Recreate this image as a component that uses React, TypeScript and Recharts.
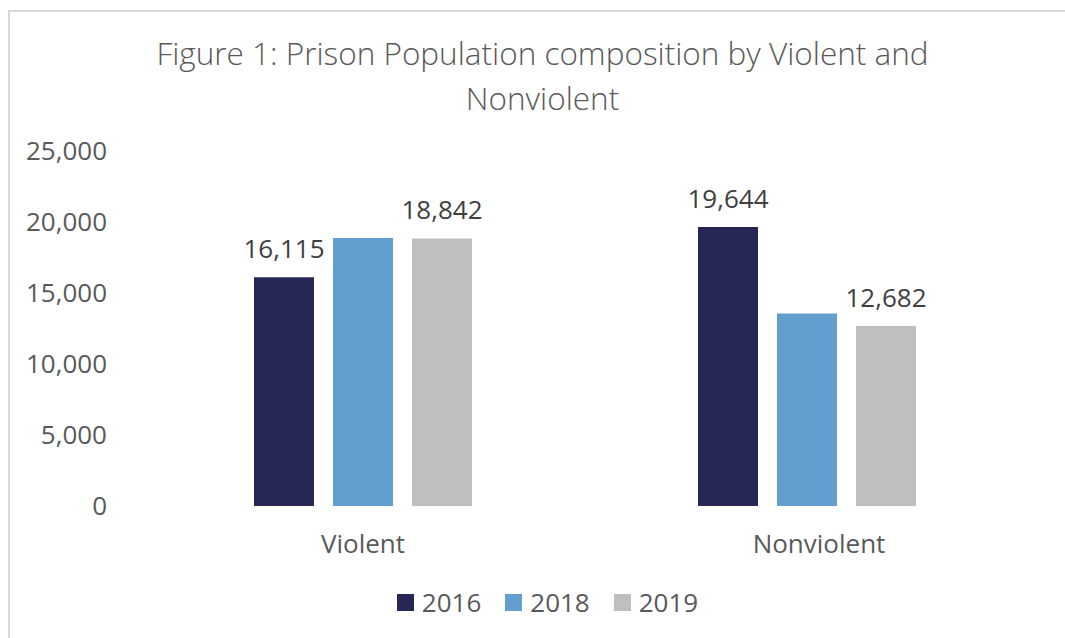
import { Bar, BarChart, LabelList, Legend, XAxis, YAxis } from 'recharts'

const CATEGORIES = ['Violent', 'Nonviolent']
const VALUES_2016 = [16115, 19644]
const VALUES_2018 = [18880, 13550]
const VALUES_2019 = [18842, 12682]
const Y_TICKS = [0, 5000, 10000, 15000, 20000, 25000]

const SERIES = [
  { key: '2016', color: '#262755', label: true },
  { key: '2018', color: '#629FD0', label: false },
  { key: '2019', color: '#BFBFBF', label: true },
]

const FONT = '"Open Sans", "Noto Sans", sans-serif'

const data = CATEGORIES.map((name, i) => ({
  name,
  '2016': VALUES_2016[i],
  '2018': VALUES_2018[i],
  '2019': VALUES_2019[i],
}))

const fmt = (v: number) => v.toLocaleString('en-US')

function LegendRow() {
  return (
    <div
      style={{
        display: 'flex',
        justifyContent: 'center',
        alignItems: 'center',
        gap: 24,
        paddingLeft: 66,
        fontFamily: FONT,
        fontSize: 26,
        color: '#595959',
        height: 40,
      }}
    >
      {SERIES.map((s) => (
        <div key={s.key} style={{ display: 'flex', alignItems: 'center', gap: 8 }}>
          <span style={{ width: 17, height: 17, background: s.color, display: 'inline-block' }} />
          <span>{s.key}</span>
        </div>
      ))}
    </div>
  )
}

// Excel nudges the second category label a little right
function CategoryTick(props: any) {
  const { x, y, payload } = props
  const dx = payload.value === 'Nonviolent' ? 12 : 0
  return (
    <text
      x={x + dx}
      y={y}
      dy="0.71em"
      textAnchor="middle"
      fill="#595959"
      fontSize={26}
      fontFamily={FONT}
    >
      {payload.value}
    </text>
  )
}

export default function App() {
  return (
    <div
      style={{
        position: 'absolute',
        left: 0,
        top: 0,
        width: 1065,
        height: 638,
        background: '#fff',
        overflow: 'hidden',
      }}
    >
      {/* chart border, only top and left show in the crop */}
      <div
        style={{
          position: 'absolute',
          left: 8,
          top: 10,
          width: 1100,
          height: 700,
          borderTop: '2px solid #D9D9D9',
          borderLeft: '2px solid #D9D9D9',
        }}
      />
      <div
        style={{
          position: 'absolute',
          left: 0,
          top: 30,
          width: 1085,
          textAlign: 'center',
          fontFamily: FONT,
          fontWeight: 300,
          fontSize: 31.5,
          lineHeight: '45px',
          color: '#595959',
        }}
      >
        Figure 1: Prison Population composition by Violent and
        <br />
        Nonviolent
      </div>
      <div style={{ position: 'absolute', left: 0, top: 0 }}>
        <BarChart
          width={1065}
          height={638}
          data={data}
          margin={{ top: 151, right: 36, left: 0, bottom: 32 }}
          barCategoryGap={113}
          barGap={19}
        >
          <XAxis
            dataKey="name"
            axisLine={false}
            tickLine={false}
            tickSize={0}
            tickMargin={29}
            height={60}
            tick={<CategoryTick />}
          />
          <YAxis
            type="number"
            domain={[0, 25000]}
            ticks={Y_TICKS}
            width={141}
            axisLine={false}
            tickLine={false}
            tickSize={0}
            tickMargin={34}
            tickFormatter={fmt}
            tick={{ fill: '#595959', fontSize: 26, fontFamily: FONT }}
          />
          <Legend verticalAlign="bottom" height={40} wrapperStyle={{ bottom: 16 }} content={() => <LegendRow />} />
          {SERIES.map((s) => (
            <Bar key={s.key} dataKey={s.key} fill={s.color} isAnimationActive={false}>
              {s.label && (
                <LabelList
                  dataKey={s.key}
                  position="top"
                  offset={19}
                  formatter={(v: any) => fmt(Number(v))}
                  style={{ fill: '#404040', fontSize: 26, fontFamily: FONT }}
                />
              )}
            </Bar>
          ))}
        </BarChart>
      </div>
    </div>
  )
}
